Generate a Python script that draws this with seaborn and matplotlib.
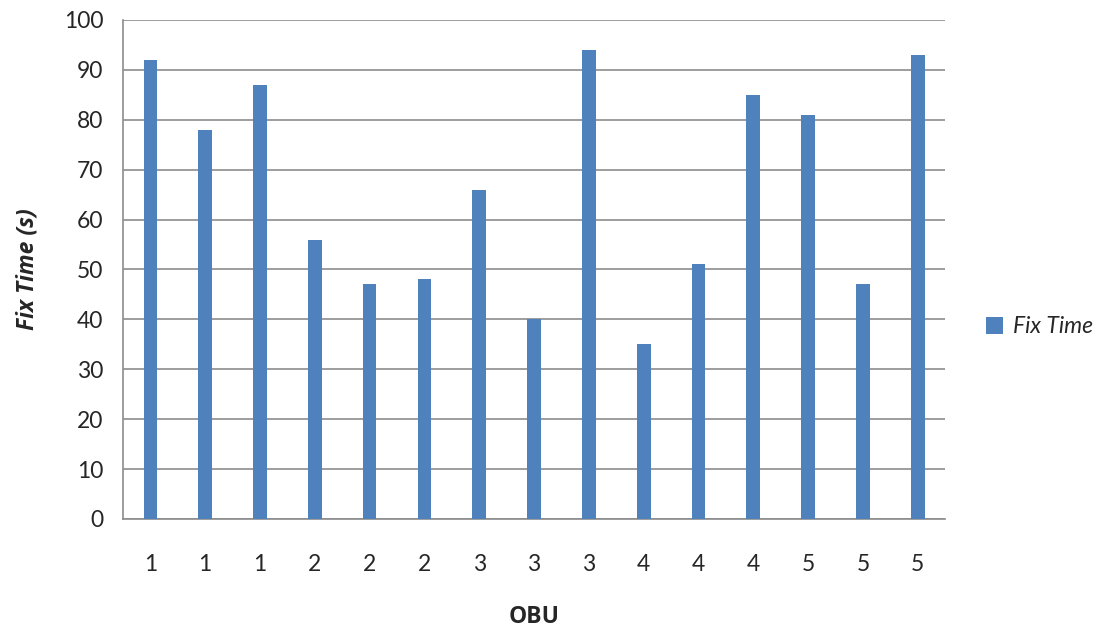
import matplotlib
matplotlib.use("Agg")
import matplotlib.pyplot as plt
import seaborn as sns
import pandas as pd
from matplotlib.patches import Patch

# Fix time per OBU trial
obu_labels = ["1", "1", "1", "2", "2", "2", "3", "3", "3", "4", "4", "4", "5", "5", "5"]
fix_time = [92, 78, 87, 56, 47, 48, 66, 40, 94, 35, 51, 85, 81, 47, 93]
y_ticks = [0, 10, 20, 30, 40, 50, 60, 70, 80, 90, 100]

sns.set_style("white")
plt.rcParams["font.family"] = ["Lato", "DejaVu Sans"]

df = pd.DataFrame({"trial": range(len(fix_time)), "OBU": obu_labels, "Fix Time": fix_time})

bar_color = "#4F81BD"
grid_color = "#8C8C8C"
fs = 16.5

fig = plt.figure(figsize=(11.08, 6.28), dpi=100)
ax = fig.add_axes([0.111, 0.1736, 0.742, 0.7946])

sns.barplot(data=df, x="trial", y="Fix Time", color=bar_color, width=0.25,
            saturation=1, linewidth=0, ax=ax, zorder=3)

ax.set_ylim(0, 100)
ax.set_xlim(-0.5, len(fix_time) - 0.5)
ax.set_yticks(y_ticks)
ax.set_yticklabels([str(v) for v in y_ticks], fontsize=fs)
ax.set_xticks(range(len(fix_time)))
ax.set_xticklabels(obu_labels, fontsize=fs)

ax.yaxis.grid(True, color=grid_color, linewidth=1.2, zorder=0)
ax.set_axisbelow(True)

for side in ["top", "right"]:
    ax.spines[side].set_visible(False)
for side in ["left", "bottom"]:
    ax.spines[side].set_color(grid_color)
    ax.spines[side].set_linewidth(1.2)

ax.tick_params(axis="y", length=7, color=grid_color, width=1.2, pad=7)
ax.tick_params(axis="x", length=0, pad=25)

ax.set_xlabel("OBU", fontsize=fs, fontweight="bold", labelpad=22,
              family=["Open Sans", "DejaVu Sans"])
ax.set_ylabel("Fix Time (s)", fontsize=fs, fontweight="bold", fontstyle="italic",
              labelpad=18, family=["Open Sans", "DejaVu Sans"])

handle = Patch(facecolor=bar_color, edgecolor="none")
leg = ax.legend([handle], ["Fix Time"], loc="center left", bbox_to_anchor=(1.025, 0.385),
                frameon=False, handlelength=0.75, handleheight=0.75, handletextpad=0.4,
                prop={"size": fs, "style": "italic"})

fig.savefig("out.png", dpi=100)
